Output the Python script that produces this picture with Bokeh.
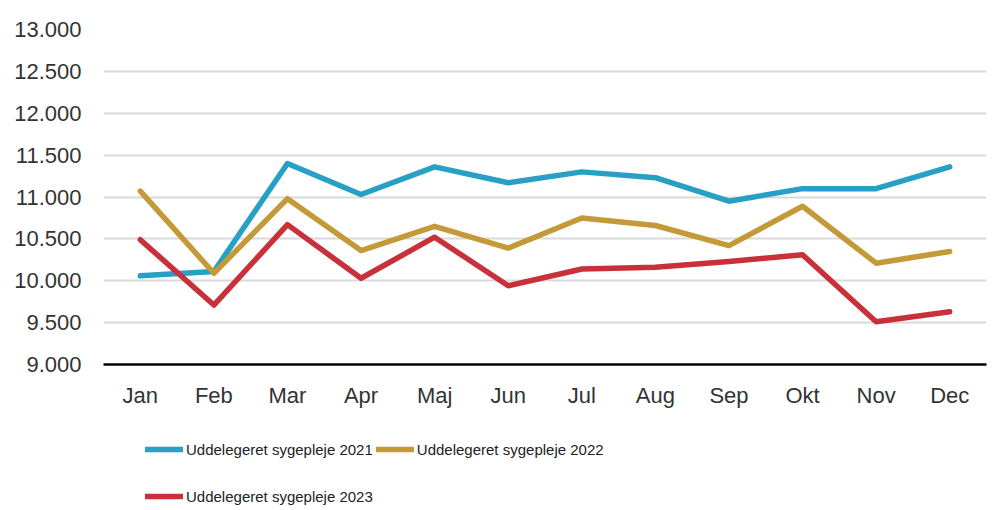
from bokeh.plotting import figure
from bokeh.layouts import column
from bokeh.models import Legend, LegendItem, FixedTicker, Range1d, FactorRange
from bokeh.embed import file_html
from bokeh.resources import INLINE

months = ["Jan", "Feb", "Mar", "Apr", "Maj", "Jun", "Jul", "Aug", "Sep", "Okt", "Nov", "Dec"]
s2021 = [10060, 10110, 11400, 11030, 11360, 11170, 11300, 11230, 10950, 11100, 11100, 11360]
s2022 = [11070, 10090, 10980, 10360, 10650, 10390, 10750, 10660, 10420, 10890, 10210, 10350]
s2023 = [10490, 9710, 10670, 10030, 10520, 9940, 10140, 10160, 10230, 10310, 9510, 9630]
names = ["Uddelegeret sygepleje 2021", "Uddelegeret sygepleje 2022", "Uddelegeret sygepleje 2023"]
colors = ["#28a0c5", "#c49a38", "#c8303a"]
yticks = [9000, 9500, 10000, 10500, 11000, 11500, 12000, 12500, 13000]
ytick_labels = ["9.000", "9.500", "10.000", "10.500", "11.000", "11.500", "12.000", "12.500", "13.000"]

LW = 5.5

p = figure(x_range=FactorRange(*months, range_padding=0), y_range=Range1d(9000, 13000),
           width=997, height=410, output_backend="svg", toolbar_location=None,
           min_border_left=103, min_border_top=29, min_border_right=11, min_border_bottom=45)
p.outline_line_color = None

for name, ys, c in zip(names, [s2021, s2022, s2023], colors):
    p.line(months, ys, line_color=c, line_width=LW, line_join="round", line_cap="round")

p.xgrid.grid_line_color = None
p.ygrid.grid_line_color = "#d9d9d9"
p.ygrid.grid_line_width = 2
p.yaxis.ticker = FixedTicker(ticks=yticks)
p.yaxis.major_label_overrides = {t: l for t, l in zip(yticks, ytick_labels)}
p.yaxis.axis_line_color = None
p.yaxis.major_tick_line_color = None
p.yaxis.minor_tick_line_color = None
p.yaxis.major_tick_out = 0
p.yaxis.minor_tick_out = 0
p.yaxis.major_label_standoff = 22
p.yaxis.major_label_text_font = "Liberation Sans"
p.yaxis.major_label_text_font_size = "22px"
p.yaxis.major_label_text_color = "#333333"

p.xaxis.axis_line_color = "black"
p.xaxis.axis_line_width = 2.5
p.xaxis.major_tick_line_color = None
p.xaxis.minor_tick_line_color = None
p.xaxis.major_tick_out = 0
p.xaxis.minor_tick_out = 0
p.xaxis.major_label_standoff = 18
p.xaxis.major_label_text_font = "Liberation Sans"
p.xaxis.major_label_text_font_size = "22px"
p.xaxis.major_label_text_color = "#333333"

# legend panel below the chart (key lines sit outside the visible range)
lg = figure(width=997, height=100, output_backend="svg", toolbar_location=None,
            x_range=Range1d(0, 1), y_range=Range1d(0, 1), x_axis_type=None, y_axis_type=None,
            min_border_left=0, min_border_right=0, min_border_top=0, min_border_bottom=0)
lg.outline_line_color = None
lg.xgrid.grid_line_color = None
lg.ygrid.grid_line_color = None
keys = [lg.line(x=[-5, -4], y=[-5, -4], line_color=c, line_width=LW, line_cap="round") for c in colors]

common = dict(margin=0, padding=0, spacing=3, glyph_width=38, glyph_height=24, label_height=24,
              label_standoff=3, label_text_font="Liberation Sans", label_text_font_size="15px",
              label_text_color="#222222", border_line_color=None, background_fill_alpha=0)
legA = Legend(items=[LegendItem(label=names[i], renderers=[keys[i]]) for i in (0, 1)],
              orientation="horizontal", location=(42, 49), **common)
legB = Legend(items=[LegendItem(label=names[2], renderers=[keys[2]])],
              orientation="horizontal", location=(42, 2), **common)
lg.add_layout(legA, "center")
lg.add_layout(legB, "center")

open("out.html", "w").write(file_html(column(p, lg), INLINE))
